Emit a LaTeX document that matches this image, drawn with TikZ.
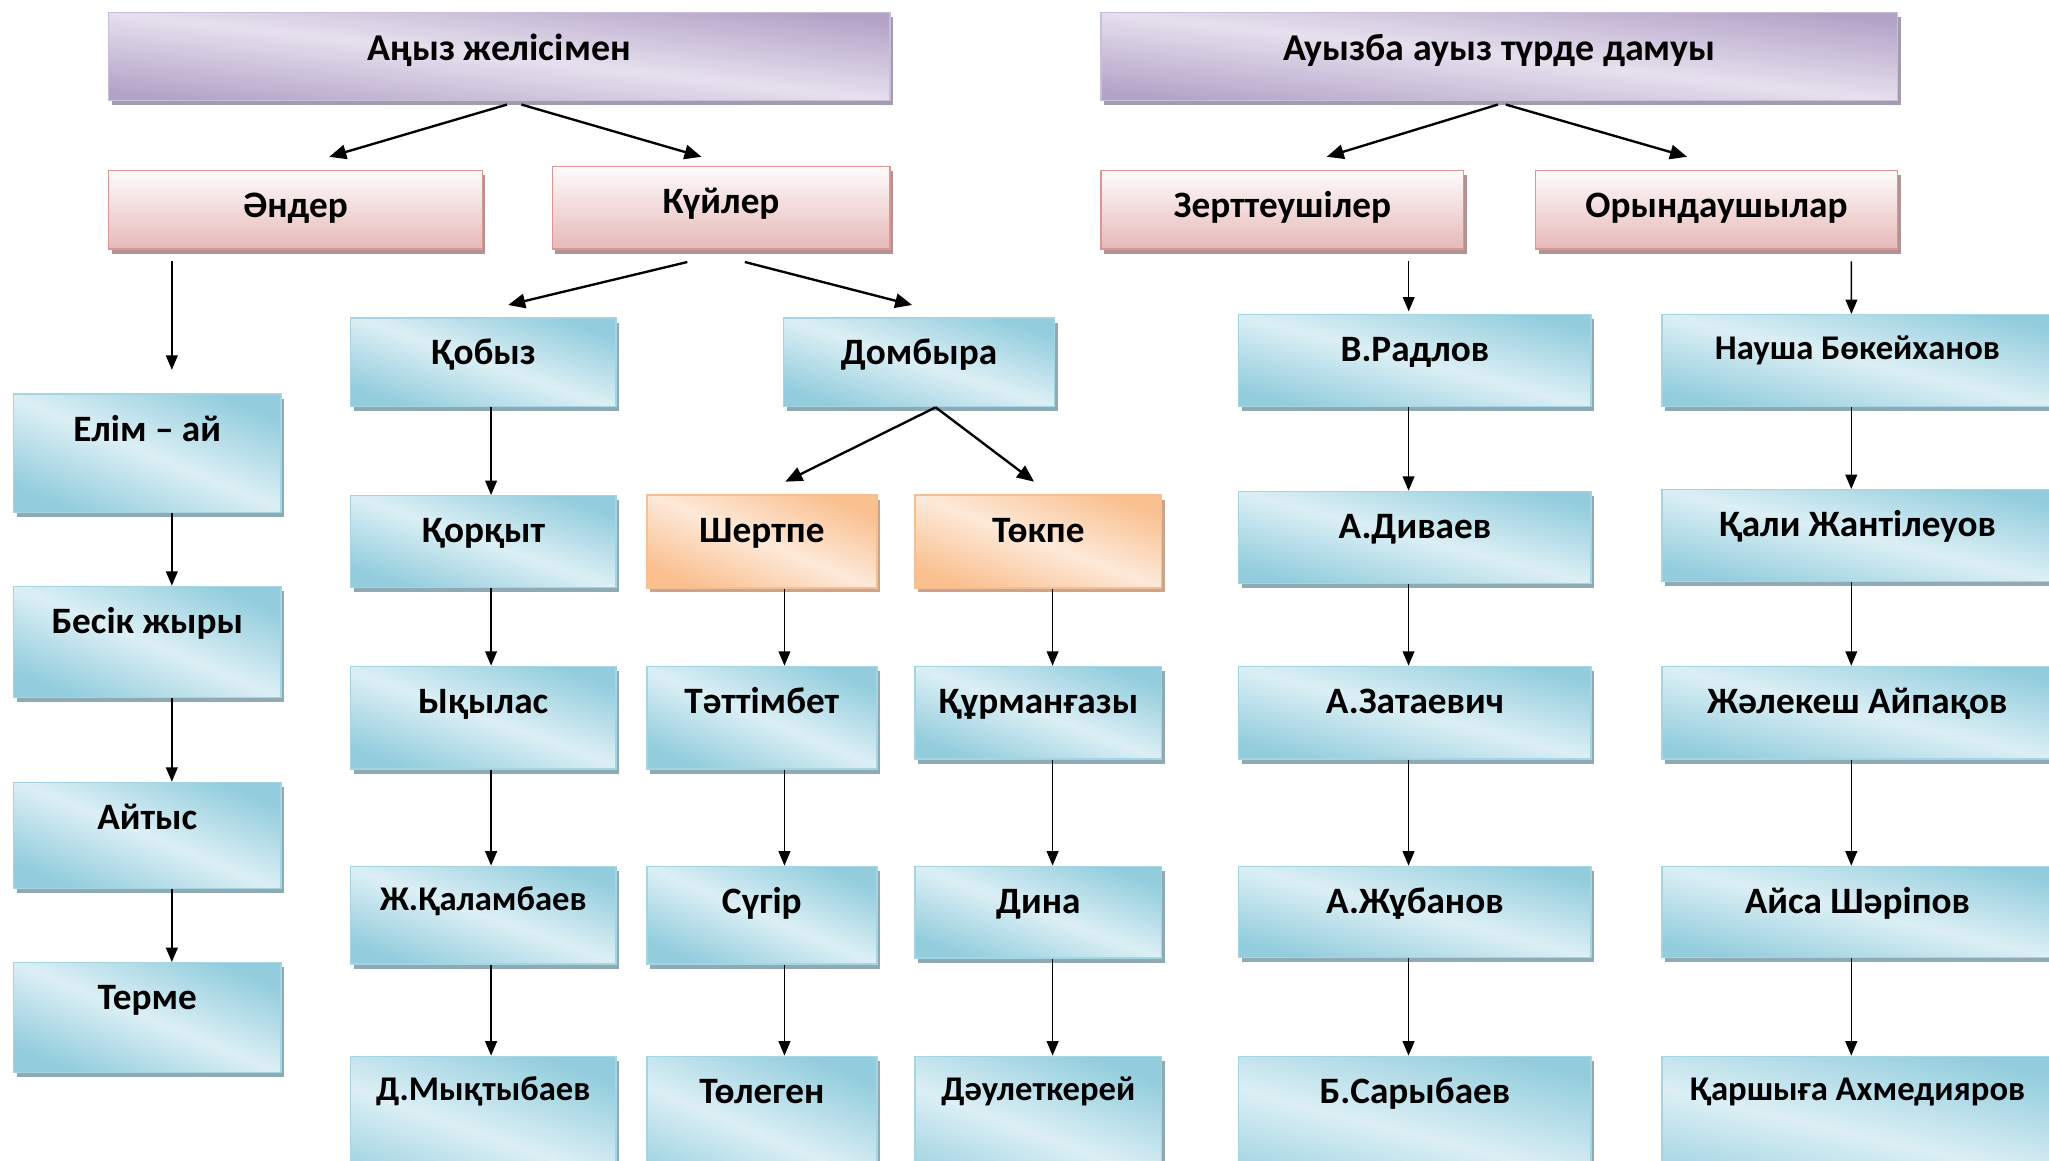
\documentclass[tikz,border=0pt]{standalone}
\usepackage{fontspec}
\setmainfont{Carlito}
\usepackage{tikz}
\usetikzlibrary{shapes.geometric, arrows.meta, shadows}

\definecolor{purpledark}{HTML}{B3A2C7}
\definecolor{purplelight}{HTML}{E6E0EE}
\definecolor{purpleline}{HTML}{C9BEDC}
\definecolor{purpleshadow}{HTML}{A29CAC}
\definecolor{pinktop}{HTML}{FEFBFB}
\definecolor{pinkbottom}{HTML}{E6B9B8}
\definecolor{pinkline}{HTML}{D99694}
\definecolor{pinkshadow}{HTML}{B09392}
\definecolor{cyandark}{HTML}{93CDDD}
\definecolor{cyanlight}{HTML}{DCEFF5}
\definecolor{cyanline}{HTML}{A3D5E3}
\definecolor{cyanshadow}{HTML}{8FAAB5}
\definecolor{orangedark}{HTML}{FAC090}
\definecolor{orangelight}{HTML}{FDE9D9}
\definecolor{orangeline}{HTML}{F8BE90}
\definecolor{orangeshadow}{HTML}{C9A58D}

\tikzstyle{box} = [rectangle, anchor=north, inner xsep=0pt, inner ysep=0pt, text height=36pt, text centered, line width=1pt, font=\bfseries\fontsize{28.5}{33}\selectfont]
\tikzstyle{mainbox} = [box, draw=purpleline, top color=purpledark, bottom color=purpledark, middle color=purplelight, shading angle=-6.4, drop shadow={shadow xshift=2.5pt, shadow yshift=-3.5pt, fill=purpleshadow, opacity=1}, text height=37pt, text depth=30.5pt, font=\bfseries\fontsize{29}{34}\selectfont]
\tikzstyle{pinkbox} = [box, draw=pinkline, top color=pinktop, bottom color=pinkbottom, drop shadow={shadow xshift=2.5pt, shadow yshift=-3.5pt, fill=pinkshadow, opacity=1}, text depth=24pt]
\tikzstyle{cbox} = [box, draw=cyanline, top color=cyandark, bottom color=cyandark, middle color=cyanlight, drop shadow={shadow xshift=2.5pt, shadow yshift=-3.5pt, fill=cyanshadow, opacity=1}]
\tikzstyle{obox} = [box, draw=orangeline, top color=orangedark, bottom color=orangedark, middle color=orangelight, drop shadow={shadow xshift=2.5pt, shadow yshift=-3.5pt, fill=orangeshadow, opacity=1}]
\tikzstyle{smalltxt} = [text height=34pt, font=\bfseries\fontsize{26.5}{31}\selectfont]
\tikzstyle{songcol} = [minimum width=204.8pt, shading angle=-22.5]
\tikzstyle{qobyzcol} = [minimum width=203pt, shading angle=-19.5]
\tikzstyle{dombcol} = [minimum width=207.3pt, shading angle=-18.2]
\tikzstyle{shertcol} = [minimum width=176pt, shading angle=-22.8]
\tikzstyle{tokpecol} = [minimum width=188.8pt, shading angle=-20.6]
\tikzstyle{researchcol} = [minimum width=269.6pt, shading angle=-14.5]
\tikzstyle{performcol} = [minimum width=299pt, shading angle=-13.2]
\tikzstyle{arrow} = [line width=1.2pt, ->, >={Triangle[length=11pt, width=9pt]}]
\tikzstyle{thickarrow} = [line width=1.8pt, ->, >={Triangle[length=13pt, width=11pt]}]

\begin{document}
\begin{tikzpicture}[x=1pt, y=-1pt]
\useasboundingbox [fill=white] (0,0) rectangle (1568,888);

% top level
\node (top1) [mainbox, minimum width=598pt] at (382,9) {Аңыз желісімен};
\node (top2) [mainbox, minimum width=609.5pt] at (1147.3,9) {Ауызба ауыз түрде дамуы};

% second level
\node (ender) [pinkbox, minimum width=286pt] at (226,130) {Әндер};
\node (kuiler) [pinkbox, minimum width=258.5pt, text depth=27pt] at (551.8,127) {Күйлер};
\node (zert) [pinkbox, minimum width=277.5pt] at (981.3,130) {Зерттеушілер};
\node (oryn) [pinkbox, minimum width=277pt] at (1313.5,130) {Орындаушылар};

% songs
\node (elim) [cbox, songcol, text depth=54.6pt] at (112.7,301) {Елім – ай};
\node (besik) [cbox, songcol, text depth=48.9pt] at (112.7,448.2) {Бесік жыры};
\node (aitys) [cbox, songcol, text depth=45.1pt] at (112.7,598.2) {Айтыс};
\node (terme) [cbox, songcol, text depth=47.9pt] at (112.7,736.2) {Терме};

% kuis
\node (qobyz) [cbox, qobyzcol, text depth=31.9pt] at (369.9,242.8) {Қобыз};
\node (dombyra) [cbox, dombcol, text depth=31.9pt] at (703.3,242.8) {Домбыра};
\node (qorqyt) [cbox, qobyzcol, text depth=34.2pt] at (369.9,378.8) {Қорқыт};
\node (yqylas) [cbox, qobyzcol, text depth=42.6pt] at (369.9,509.4) {Ықылас};
\node (qalambaev) [cbox, qobyzcol, smalltxt, text depth=40.8pt] at (369.9,662.4) {Ж.Қаламбаев};
\node (myqtybaev) [cbox, qobyzcol, smalltxt, text depth=86pt] at (369.9,807.8) {Д.Мықтыбаев};
\node (shertpe) [obox, shertcol, text depth=35.1pt] at (583,378.3) {Шертпе};
\node (tattimbet) [cbox, shertcol, text depth=42.6pt] at (583,509.4) {Тәттімбет};
\node (sugir) [cbox, shertcol, text depth=38.8pt] at (583,662.4) {Сүгір};
\node (tolegen) [cbox, shertcol, text depth=84pt] at (583,807.8) {Төлеген};
\node (tokpe) [obox, tokpecol, text depth=35.1pt] at (794.6,378.3) {Төкпе};
\node (qurmangazy) [cbox, tokpecol, text depth=34.9pt] at (794.6,509.4) {Құрманғазы};
\node (dina) [cbox, tokpecol, text depth=34.2pt] at (794.6,662.4) {Дина};
\node (dauletkerei) [cbox, tokpecol, smalltxt, text depth=86pt] at (794.6,807.8) {Дәулеткерей};

% researchers
\node (radlov) [cbox, researchcol, text depth=34.4pt] at (1082.8,240.3) {В.Радлов};
\node (divaev) [cbox, researchcol, text depth=34.4pt] at (1082.8,375.5) {А.Диваев};
\node (zataevich) [cbox, researchcol, text depth=34.9pt] at (1082.8,509.4) {А.Затаевич};
\node (zhubanov) [cbox, researchcol, text depth=33.6pt] at (1082.8,662.4) {А.Жұбанов};
\node (sarybaev) [cbox, researchcol, text depth=84pt] at (1082.8,807.8) {Б.Сарыбаев};

% performers
\node (nausha) [cbox, performcol, smalltxt, text depth=36.4pt] at (1421.4,240.3) {Науша Бөкейханов};
\node (qali) [cbox, performcol, text depth=34.4pt] at (1421.4,374.2) {Қали Жантілеуов};
\node (zhalekesh) [cbox, performcol, text depth=34.9pt] at (1421.4,509.4) {Жәлекеш Айпақов};
\node (aisa) [cbox, performcol, text depth=33.6pt] at (1421.4,662.4) {Айса Шәріпов};
\node (qarshyga) [cbox, performcol, smalltxt, text depth=86pt] at (1421.4,807.8) {Қаршыға Ахмедияров};

% branches
\draw [thickarrow] ([xshift=6pt,yshift=-2.5pt]top1.south) -- ([xshift=26pt,yshift=10pt]ender.north);
\draw [thickarrow] ([xshift=17pt,yshift=-2.5pt]top1.south) -- ([xshift=-15pt,yshift=7pt]kuiler.north);
\draw [thickarrow] ([xshift=-1pt,yshift=-2.5pt]top2.south) -- ([xshift=34pt,yshift=10pt]zert.north);
\draw [thickarrow] ([xshift=5pt,yshift=-2.5pt]top2.south) -- ([xshift=-22.5pt,yshift=10pt]oryn.north);
\draw [thickarrow] ([xshift=-25.8pt,yshift=-9.5pt]kuiler.south) -- ([xshift=19pt,yshift=9.4pt]qobyz.north);
\draw [thickarrow] ([xshift=18.2pt,yshift=-9.5pt]kuiler.south) -- ([xshift=-5.3pt,yshift=9.4pt]dombyra.north);
\draw [thickarrow] ([xshift=12.7pt]dombyra.south) -- ([xshift=18pt,yshift=9.7pt]shertpe.north);
\draw [thickarrow] ([xshift=12.7pt]dombyra.south) -- ([xshift=-3.3pt,yshift=9.7pt]tokpe.north);
\draw [arrow] ([xshift=-94.5pt,yshift=-9pt]ender.south) -- ([xshift=18.8pt,yshift=18pt]elim.north);
\draw [arrow] ([xshift=96.7pt,yshift=-9pt]zert.south) -- ([xshift=-4.8pt,yshift=2pt]radlov.north);
\draw [arrow] ([xshift=103.3pt,yshift=-9pt]oryn.south) -- ([xshift=-4.6pt]nausha.north);

% columns
\draw [arrow] ([xshift=18.8pt]elim.south) -- ([xshift=18.8pt]besik.north);
\draw [arrow] ([xshift=18.8pt]besik.south) -- ([xshift=18.8pt]aitys.north);
\draw [arrow] ([xshift=18.8pt]aitys.south) -- ([xshift=18.8pt]terme.north);
\draw [arrow] ([xshift=5.9pt]qobyz.south) -- ([xshift=5.9pt]qorqyt.north);
\draw [arrow] ([xshift=5.9pt]qorqyt.south) -- ([xshift=5.9pt]yqylas.north);
\draw [arrow] ([xshift=5.9pt]yqylas.south) -- ([xshift=5.9pt]qalambaev.north);
\draw [arrow] ([xshift=5.9pt]qalambaev.south) -- ([xshift=5.9pt]myqtybaev.north);
\draw [arrow] ([xshift=17.3pt]shertpe.south) -- ([xshift=17.3pt]tattimbet.north);
\draw [arrow] ([xshift=17.3pt]tattimbet.south) -- ([xshift=17.3pt]sugir.north);
\draw [arrow] ([xshift=17.3pt]sugir.south) -- ([xshift=17.3pt]tolegen.north);
\draw [arrow] ([xshift=10.9pt]tokpe.south) -- ([xshift=10.9pt]qurmangazy.north);
\draw [arrow] ([xshift=10.9pt]qurmangazy.south) -- ([xshift=10.9pt]dina.north);
\draw [arrow] ([xshift=10.9pt]dina.south) -- ([xshift=10.9pt]dauletkerei.north);
\draw [arrow] ([xshift=-4.9pt]radlov.south) -- ([xshift=-4.9pt]divaev.north);
\draw [arrow] ([xshift=-4.9pt]divaev.south) -- ([xshift=-4.9pt]zataevich.north);
\draw [arrow] ([xshift=-4.9pt]zataevich.south) -- ([xshift=-4.9pt]zhubanov.north);
\draw [arrow] ([xshift=-4.9pt]zhubanov.south) -- ([xshift=-4.9pt]sarybaev.north);
\draw [arrow] ([xshift=-4.7pt]nausha.south) -- ([xshift=-4.7pt]qali.north);
\draw [arrow] ([xshift=-4.7pt]qali.south) -- ([xshift=-4.7pt]zhalekesh.north);
\draw [arrow] ([xshift=-4.7pt]zhalekesh.south) -- ([xshift=-4.7pt]aisa.north);
\draw [arrow] ([xshift=-4.7pt]aisa.south) -- ([xshift=-4.7pt]qarshyga.north);
\end{tikzpicture}
\end{document}
